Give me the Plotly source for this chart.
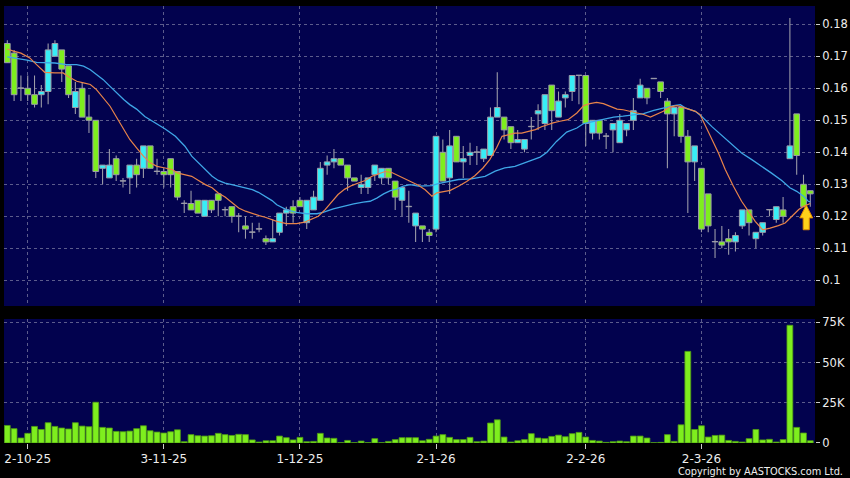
import plotly.graph_objects as go

# ---------------- data ----------------
opens = [0.174,0.171,0.160,0.160,0.158,0.158,0.159,0.170,0.172,0.167,
         0.154,0.160,0.151,0.150,0.135,0.132,0.138,0.131,0.132,0.136,
         0.135,0.142,0.134,0.134,0.138,0.134,0.124,0.124,0.125,0.120,
         0.125,0.127,0.122,0.123,0.120,0.117,0.115,0.116,0.113,0.112,
         0.115,0.121,0.123,0.125,0.118,0.122,0.125,0.136,0.137,0.138,
         0.136,0.132,0.129,0.129,0.133,0.132,0.135,0.131,0.125,0.123,
         0.117,0.117,0.115,0.116,0.140,0.132,0.145,0.137,0.139,0.140,
         0.138,0.139,0.151,0.151,0.148,0.143,0.141,0.148,0.152,0.149,
         0.161,0.151,0.157,0.159,0.164,0.164,0.146,0.150,0.145,0.147,
         0.143,0.147,0.150,0.157,0.160,0.163,0.162,0.156,0.152,0.154,
         0.145,0.137,0.135,0.127,0.112,0.112,0.113,0.112,0.117,0.122,
         0.113,0.115,0.122,0.119,0.122,0.138,0.152,0.130,0.128]
highs = [0.175,0.172,0.164,0.164,0.164,0.161,0.174,0.175,0.172,0.167,
         0.162,0.162,0.158,0.150,0.136,0.141,0.139,0.132,0.136,0.138,
         0.142,0.142,0.138,0.135,0.138,0.134,0.125,0.128,0.125,0.125,
         0.125,0.127,0.123,0.123,0.121,0.120,0.118,0.118,0.114,0.119,
         0.121,0.123,0.125,0.126,0.125,0.128,0.137,0.139,0.141,0.138,
         0.136,0.132,0.133,0.132,0.136,0.135,0.135,0.131,0.129,0.128,
         0.121,0.117,0.116,0.145,0.144,0.147,0.145,0.142,0.143,0.142,
         0.141,0.154,0.165,0.151,0.148,0.147,0.144,0.151,0.155,0.158,
         0.161,0.159,0.159,0.164,0.164,0.164,0.150,0.150,0.146,0.149,
         0.152,0.149,0.157,0.163,0.160,0.163,0.162,0.157,0.154,0.154,
         0.147,0.142,0.135,0.127,0.116,0.117,0.116,0.115,0.122,0.122,
         0.115,0.118,0.122,0.123,0.126,0.182,0.152,0.133,0.128]
lows = [0.168,0.156,0.156,0.156,0.154,0.154,0.155,0.170,0.162,0.157,
        0.152,0.151,0.146,0.132,0.130,0.132,0.131,0.129,0.127,0.129,
        0.132,0.135,0.133,0.129,0.129,0.125,0.121,0.122,0.121,0.120,
        0.121,0.120,0.120,0.118,0.115,0.113,0.113,0.115,0.111,0.112,
        0.114,0.117,0.118,0.123,0.116,0.122,0.125,0.133,0.135,0.136,
        0.128,0.131,0.127,0.127,0.131,0.130,0.130,0.122,0.120,0.118,
        0.112,0.112,0.112,0.115,0.131,0.127,0.137,0.132,0.136,0.136,
        0.137,0.139,0.151,0.144,0.141,0.143,0.140,0.144,0.147,0.147,
        0.147,0.151,0.154,0.156,0.155,0.142,0.144,0.144,0.141,0.140,
        0.143,0.145,0.147,0.157,0.155,0.163,0.157,0.135,0.145,0.143,
        0.121,0.131,0.115,0.115,0.107,0.110,0.108,0.109,0.116,0.114,
        0.110,0.114,0.120,0.118,0.118,0.138,0.133,0.123,0.123]
closes = [0.168,0.158,0.160,0.158,0.155,0.159,0.172,0.174,0.166,0.158,
          0.159,0.151,0.150,0.134,0.136,0.136,0.133,0.131,0.136,0.133,
          0.142,0.135,0.134,0.133,0.133,0.126,0.124,0.122,0.121,0.125,
          0.122,0.125,0.122,0.120,0.120,0.116,0.115,0.116,0.112,0.113,
          0.121,0.122,0.121,0.123,0.125,0.126,0.135,0.137,0.138,0.136,
          0.132,0.131,0.130,0.132,0.136,0.135,0.132,0.126,0.129,0.123,
          0.121,0.116,0.114,0.145,0.131,0.142,0.137,0.138,0.140,0.140,
          0.141,0.151,0.154,0.147,0.143,0.144,0.144,0.148,0.153,0.158,
          0.153,0.156,0.158,0.164,0.164,0.149,0.150,0.146,0.145,0.149,
          0.150,0.149,0.153,0.161,0.157,0.163,0.159,0.152,0.154,0.145,
          0.137,0.142,0.116,0.117,0.112,0.111,0.112,0.114,0.122,0.118,
          0.115,0.118,0.122,0.123,0.120,0.142,0.139,0.123,0.127]
volumes_k = [10.9,8.9,3.1,6.0,10.3,8.4,12.6,10.3,9.3,8.7,
             12.6,10.5,10.1,25.3,9.7,9.3,7.2,7.0,7.4,8.9,
             10.7,7.6,6.8,6.2,7.0,8.2,0.8,5.2,4.5,4.3,
             4.5,6.0,5.2,4.7,5.4,5.2,1.9,0.6,1.4,1.4,
             4.3,3.3,1.9,3.5,0.8,1.0,6.0,3.1,2.9,0.2,
             1.6,0.2,1.2,0.2,2.7,0.2,1.0,2.1,3.3,3.3,
             3.3,1.4,2.3,4.3,5.2,3.5,2.1,2.1,3.5,0.8,
             1.2,12.4,14.4,3.7,0.6,1.4,2.1,5.8,3.1,2.7,
             4.1,4.9,3.9,5.8,6.6,3.7,1.6,1.2,0.4,0.8,
             1.2,0.8,4.3,4.3,3.1,0.2,0.4,5.2,1.0,11.3,
             56.9,8.4,10.7,3.7,4.7,4.9,1.6,1.0,0.6,2.7,
             8.4,1.9,2.3,0.6,2.1,73.1,9.7,6.2,1.4]

# moving averages (trading-day index, value)
ma10_x = [0,0.9,2,3.3,4.3,5.5,7,8.2,9,10.2,11.2,12.2,13.1,14.1,15.1,16.1,17.1,18,19,20,
          21,22,23.2,24.2,25.1,26.1,27.1,28.1,29.1,30.1,31,32,33,34,35,36,37,37.9,38.9,39.6,
          41,42.5,43.7,44.7,45.7,46.7,47.7,48.6,49.6,50.6,51.6,52.6,53.6,54.5,55.5,56.5,57.5,58.5,59.4,60.4,
          61.4,62.4,63.1,64.1,65.1,66.3,67.5,68.7,69.9,70.9,71.9,72.7,73.6,74.6,75.6,76.6,77.6,78.5,79.3,80.2,
          81.2,82.4,83.7,84.7,85.6,86.6,87.6,88.6,89.6,90.5,91.5,92.5,93.5,94.5,95.4,96.4,97.4,98.4,99.1,100.1,
          101.1,101.8,102.8,103.8,104.5,105.5,106.7,107.9,108.9,109.9,111,112.1,113.3,114.3,115.3,116.3,117,118]
ma10_y = [0.1723,0.1716,0.1710,0.1695,0.1674,0.1650,0.1648,0.1648,0.1636,0.1622,0.1617,0.1612,0.1596,0.1570,0.1544,0.1508,0.1471,0.1440,0.1414,0.1388,
          0.1367,0.1356,0.1351,0.1346,0.1335,0.1330,0.1325,0.1312,0.1299,0.1289,0.1273,0.1260,0.1242,0.1226,0.1216,0.1208,0.1202,0.1197,0.1190,0.1184,
          0.1177,0.1177,0.1182,0.1190,0.1200,0.1221,0.1247,0.1268,0.1285,0.1296,0.1304,0.1312,0.1325,0.1333,0.1340,0.1337,0.1327,0.1317,0.1309,0.1297,
          0.1283,0.1263,0.1273,0.1276,0.1281,0.1294,0.1309,0.1327,0.1351,0.1377,0.1414,0.1450,0.1455,0.1460,0.1460,0.1466,0.1471,0.1480,0.1486,0.1492,
          0.1497,0.1502,0.1523,0.1546,0.1552,0.1556,0.1552,0.1544,0.1535,0.1533,0.1528,0.1521,0.1518,0.1510,0.1518,0.1528,0.1542,0.1546,0.1542,0.1535,
          0.1528,0.1518,0.1471,0.1429,0.1398,0.1346,0.1294,0.1247,0.1216,0.1184,0.1158,0.1163,0.1171,0.1179,0.1200,0.1221,0.1231,0.1240]
ma20_x = [0,0.9,2.9,4.3,6,7,8.7,10.2,11.2,12.2,13.1,14.1,15.1,16.1,17.1,18,19,20.2,21.7,23.2,
          24.7,26.1,27.1,28.1,29.1,30.1,31,32,33,34,35,36,36.9,37.9,38.9,39.6,41,42.5,44,45.5,
          46.4,47.9,49.4,50.9,52.3,53.3,54.3,55.3,56.3,57.2,58.2,59.2,60.4,62.4,63.3,64.8,66.3,68.2,70.2,71.7,
          73.1,74.6,76.1,77.6,78.3,79.3,80.7,82.2,83.7,84.7,86.1,87.6,89.1,90.5,92,93.5,95,96.4,97.9,98.9,
          99.6,101.1,102,103.5,105,106.5,107.9,109.4,110.9,112.3,113.8,115,116,117,117.7,118]
ma20_y = [0.1698,0.1695,0.1688,0.1681,0.1680,0.1679,0.1674,0.1674,0.1669,0.1658,0.1643,0.1627,0.1606,0.1585,0.1565,0.1549,0.1535,0.1512,0.1492,0.1473,
          0.1450,0.1419,0.1388,0.1367,0.1346,0.1325,0.1312,0.1304,0.1299,0.1294,0.1289,0.1283,0.1275,0.1263,0.1249,0.1236,0.1221,0.1212,0.1208,0.1208,
          0.1212,0.1223,0.1231,0.1239,0.1244,0.1247,0.1257,0.1270,0.1280,0.1285,0.1294,0.1299,0.1294,0.1296,0.1302,0.1309,0.1315,0.1317,0.1325,0.1341,
          0.1351,0.1356,0.1367,0.1379,0.1385,0.1400,0.1434,0.1463,0.1476,0.1490,0.1497,0.1504,0.1510,0.1513,0.1516,0.1521,0.1531,0.1539,0.1546,0.1549,
          0.1539,0.1528,0.1513,0.1481,0.1452,0.1424,0.1398,0.1377,0.1356,0.1335,0.1312,0.1289,0.1278,0.1263,0.1247,0.1245]

date_tick_index = [3, 23, 43, 63, 85, 102]
date_tick_labels = ["2-10-25", "3-11-25", "1-12-25", "2-1-26", "2-2-26", "2-3-26"]
price_ticks = [0.10, 0.11, 0.12, 0.13, 0.14, 0.15, 0.16, 0.17, 0.18]
price_tick_labels = ["0.1", "0.11", "0.12", "0.13", "0.14", "0.15", "0.16", "0.17", "0.18"]
vol_ticks_k = [0, 25, 50, 75]
vol_tick_labels = ["0", "25K", "50K", "75K"]
arrow_index = 117

# ---------------- styling ----------------
NAVY = "#02024e"
GRID = "#5c5c8c"
TXT = "#eeeeee"
CYAN = "#38eef6"
LIME = "#7eee1e"
WICK = "#9c9ca8"
BODY_W = 0.84

idx = list(range(len(closes)))
volumes = [v * 1000 for v in volumes_k]

body_base = [min(o, c) for o, c in zip(opens, closes)]
body_h = [max(abs(c - o), 0.00012) for o, c in zip(opens, closes)]
body_col = [CYAN if c > o else (LIME if c < o else WICK) for o, c in zip(opens, closes)]
wick_h = [h - l for h, l in zip(highs, lows)]

fig = go.Figure()
# wicks (thin bars from low to high)
fig.add_trace(go.Bar(x=idx, y=wick_h, base=lows, width=0.16,
                     marker=dict(color=WICK, line=dict(width=0)),
                     xaxis="x", yaxis="y", hoverinfo="skip"))
# bodies
fig.add_trace(go.Bar(x=idx, y=body_h, base=body_base, width=BODY_W,
                     marker=dict(color=body_col, line=dict(color=WICK, width=1)),
                     xaxis="x", yaxis="y", hoverinfo="skip"))
fig.add_trace(go.Scatter(x=ma20_x, y=ma20_y, mode="lines",
                         line=dict(color="#3fa6e6", width=1.3), xaxis="x", yaxis="y", hoverinfo="skip"))
fig.add_trace(go.Scatter(x=ma10_x, y=ma10_y, mode="lines",
                         line=dict(color="#e8844a", width=1.2), xaxis="x", yaxis="y", hoverinfo="skip"))
fig.add_trace(go.Bar(x=idx, y=volumes, width=0.86,
                     marker=dict(color=LIME, line=dict(color="#4f9a14", width=0.8)),
                     xaxis="x2", yaxis="y2", hoverinfo="skip"))

# yellow up-arrow marker under the last green candle
ax = arrow_index + 0.4
ay_tip = lows[arrow_index] + 0.0005
head = 0.0040
stem = 0.0037
path = (f"M {ax},{ay_tip} L {ax+0.95},{ay_tip-head} L {ax+0.45},{ay_tip-head} "
        f"L {ax+0.45},{ay_tip-head-stem} L {ax-0.45},{ay_tip-head-stem} L {ax-0.45},{ay_tip-head} "
        f"L {ax-0.95},{ay_tip-head} Z")
fig.add_shape(type="path", path=path, xref="x", yref="y",
              fillcolor="#ffd21a", line=dict(color="#e08a00", width=1))

xr = [-0.485, 118.69]
common_x = dict(range=xr, showgrid=True, gridcolor=GRID, griddash="3px,3px", gridwidth=1,
                zeroline=False, tickvals=date_tick_index, ticktext=date_tick_labels,
                showline=False, automargin=False)
common_y = dict(side="right", ticks="outside", ticklen=4, tickcolor="#cccccc",
                showgrid=True, gridcolor=GRID, griddash="3px,3px", zeroline=False,
                automargin=False, tickfont=dict(size=11.5, color=TXT))

fig.update_layout(
    width=850, height=478,
    margin=dict(l=4, r=35, t=6, b=35, autoexpand=False),
    paper_bgcolor="#000000", plot_bgcolor=NAVY,
    showlegend=False, hovermode=False,
    barmode="overlay",
    font=dict(family="DejaVu Sans", size=11, color=TXT),
    xaxis=dict(**common_x, anchor="y", showticklabels=False, ticks=""),
    xaxis2=dict(**common_x, anchor="y2", matches="x", showticklabels=True,
                ticks="outside", ticklen=5, tickcolor="#cccccc",
                tickfont=dict(size=12, color=TXT)),
    yaxis=dict(**common_y, domain=[0.3135, 1], range=[0.09197, 0.18572],
               tickvals=price_ticks, ticktext=price_tick_labels),
    yaxis2=dict(**common_y, domain=[0, 0.2838], range=[0, 77000],
                tickvals=[v * 1000 for v in vol_ticks_k], ticktext=vol_tick_labels),
    annotations=[dict(text="Copyright by AASTOCKS.com Ltd.", xref="paper", yref="paper",
                      x=1.0375, y=-0.066, xanchor="right", yanchor="middle",
                      showarrow=False, font=dict(size=9.8, color=TXT))],
)

fig.write_html(
    "out.html",
    config={"displayModeBar": False, "staticPlot": True},
    post_script="document.body.style.margin='0';document.body.style.background='#000';"
                "document.documentElement.style.background='#000';"
                "document.body.style.overflow='hidden';",
)
